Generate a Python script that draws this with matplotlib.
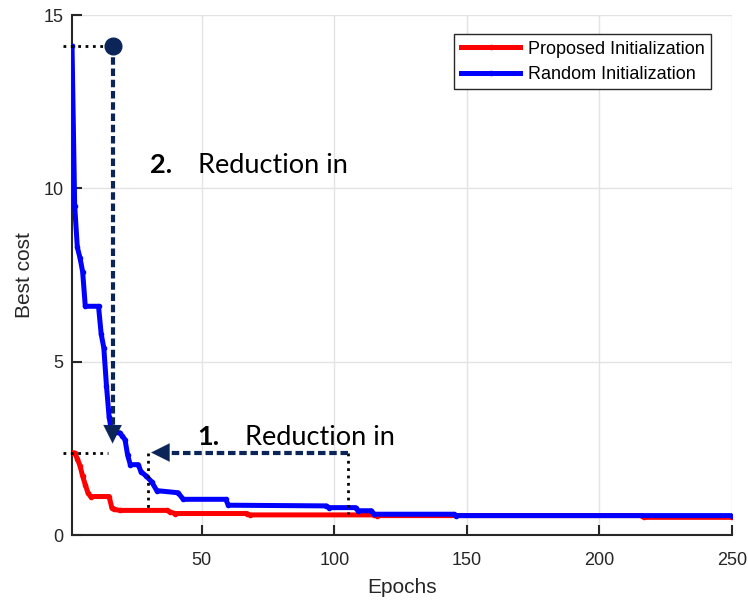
import matplotlib.pyplot as plt
from matplotlib.patches import Rectangle

# best cost per epoch, given at the epochs where the value changes (and just before)
red_x = [1, 2, 3, 4, 5, 6, 7, 8, 15, 16, 17, 19, 37, 38, 40, 67, 68, 115, 116, 216, 217, 250]
red_y = [2.37, 2.37, 2.2, 2.0, 1.7, 1.45, 1.22, 1.11, 1.11, 0.79, 0.74, 0.71, 0.71, 0.66,
         0.62, 0.62, 0.58, 0.58, 0.56, 0.56, 0.51, 0.51]

blue_x = [1, 2, 3, 4, 5, 6, 11, 12, 13, 14, 15, 16, 19, 20, 21, 22, 23, 26, 27, 29, 31, 33,
          41, 43, 59, 60, 97, 98, 108, 109, 114, 115, 145, 146, 250]
blue_y = [14.1, 9.5, 8.3, 8.0, 7.6, 6.6, 6.6, 5.8, 5.4, 4.3, 3.4, 2.95, 2.95, 2.85, 2.75,
          2.3, 2.03, 2.03, 1.83, 1.7, 1.54, 1.28, 1.22, 1.03, 1.03, 0.86, 0.84, 0.79, 0.79,
          0.70, 0.70, 0.60, 0.60, 0.56, 0.56]

labels = ["Proposed Initialization", "Random Initialization"]
x_ticks = [50, 100, 150, 200, 250]
y_ticks = [0, 5, 10, 15]

navy = "#0b2559"
plt.rcParams['font.family'] = ['Liberation Sans', 'DejaVu Sans']
note_font = ['Lato', 'DejaVu Sans']

fig = plt.figure(figsize=(7.48, 6.01), dpi=100)
ax = fig.add_axes((0.0963, 0.1098, 0.882, 0.865))

ax.plot(red_x, red_y, '.-', color="#ff0000", lw=3.6, ms=6, label=labels[0], zorder=3)
ax.plot(blue_x, blue_y, '.-', color="#0000ff", lw=3.6, ms=6, label=labels[1], zorder=4)

ax.set_xlim(1, 250)
ax.set_ylim(0, 15)
ax.set_xticks(x_ticks)
ax.set_yticks(y_ticks)
ax.grid(True, color="#e3e3e3", lw=1)
ax.set_axisbelow(True)
ax.spines['top'].set_visible(False)
ax.spines['right'].set_visible(False)
for s in ('left', 'bottom'):
    ax.spines[s].set_color('#262626')
    ax.spines[s].set_linewidth(1.5)
ax.tick_params(direction='in', length=7, width=1.5, color='#262626',
               labelsize=13, labelcolor='#262626')
ax.tick_params(axis='x', pad=12)
ax.tick_params(axis='y', pad=6)
ax.set_xlabel("Epochs", fontsize=15, color='#262626', labelpad=7)
ax.set_ylabel("Best cost", fontsize=15, color='#262626', labelpad=7)

head = '-|>,head_width=0.55,head_length=1.1'

# annotation 2: vertical drop from random start
ax.plot([-2.3, 13.5], [14.1, 14.1], ':', color='black', lw=2, clip_on=False, zorder=5)
ax.plot([16.3], [14.1], 'o', color=navy, ms=12, zorder=6)
ax.plot([16.3, 16.3], [14.1, 3.1], '--', color=navy, lw=3, dashes=(1.8, 0.9), zorder=6)
ax.annotate('', xy=(16.3, 2.56), xytext=(16.3, 3.5),
            arrowprops=dict(arrowstyle=head, color=navy, lw=0.1, mutation_scale=12), zorder=6)

# annotation 1: horizontal gain in epochs
ax.plot([-2.3, 14.7], [2.38, 2.38], ':', color='black', lw=2, clip_on=False, zorder=5)
ax.plot([29.8, 29.8], [2.38, 0.68], ':', color='black', lw=2, zorder=5)
ax.plot([105, 105], [2.38, 0.62], ':', color='black', lw=2, zorder=5)
ax.plot([105, 34], [2.38, 2.38], '--', color=navy, lw=3, dashes=(1.8, 0.9), zorder=6)
ax.annotate('', xy=(29.8, 2.38), xytext=(38, 2.38),
            arrowprops=dict(arrowstyle=head, color=navy, lw=0.1, mutation_scale=12), zorder=6)

ax.text(30.6, 10.45, "2.", fontsize=19.5, fontweight='bold', family=note_font,
        va='baseline', ha='left')
t2 = ax.text(48.6, 10.45, "Reduction in", fontsize=19.5, family=note_font,
             va='baseline', ha='left')
t2.set_clip_path(Rectangle((0, 0), 250, 10.97, transform=ax.transData))
ax.text(48.2, 2.61, "1.", fontsize=19.5, fontweight='bold', family=note_font,
        va='baseline', ha='left')
t1 = ax.text(66.4, 2.61, "Reduction in", fontsize=19.5, family=note_font,
             va='baseline', ha='left')
t1.set_clip_path(Rectangle((0, 0), 250, 3.1, transform=ax.transData))

leg = ax.legend(loc='upper right', bbox_to_anchor=(0.968, 0.963), borderaxespad=0,
                fontsize=13, fancybox=False, framealpha=1, edgecolor='#262626',
                handlelength=3.3, handletextpad=0.4, borderpad=0.35, labelspacing=0.45)
leg.get_frame().set_linewidth(1)

fig.savefig("out.png", dpi=100)
